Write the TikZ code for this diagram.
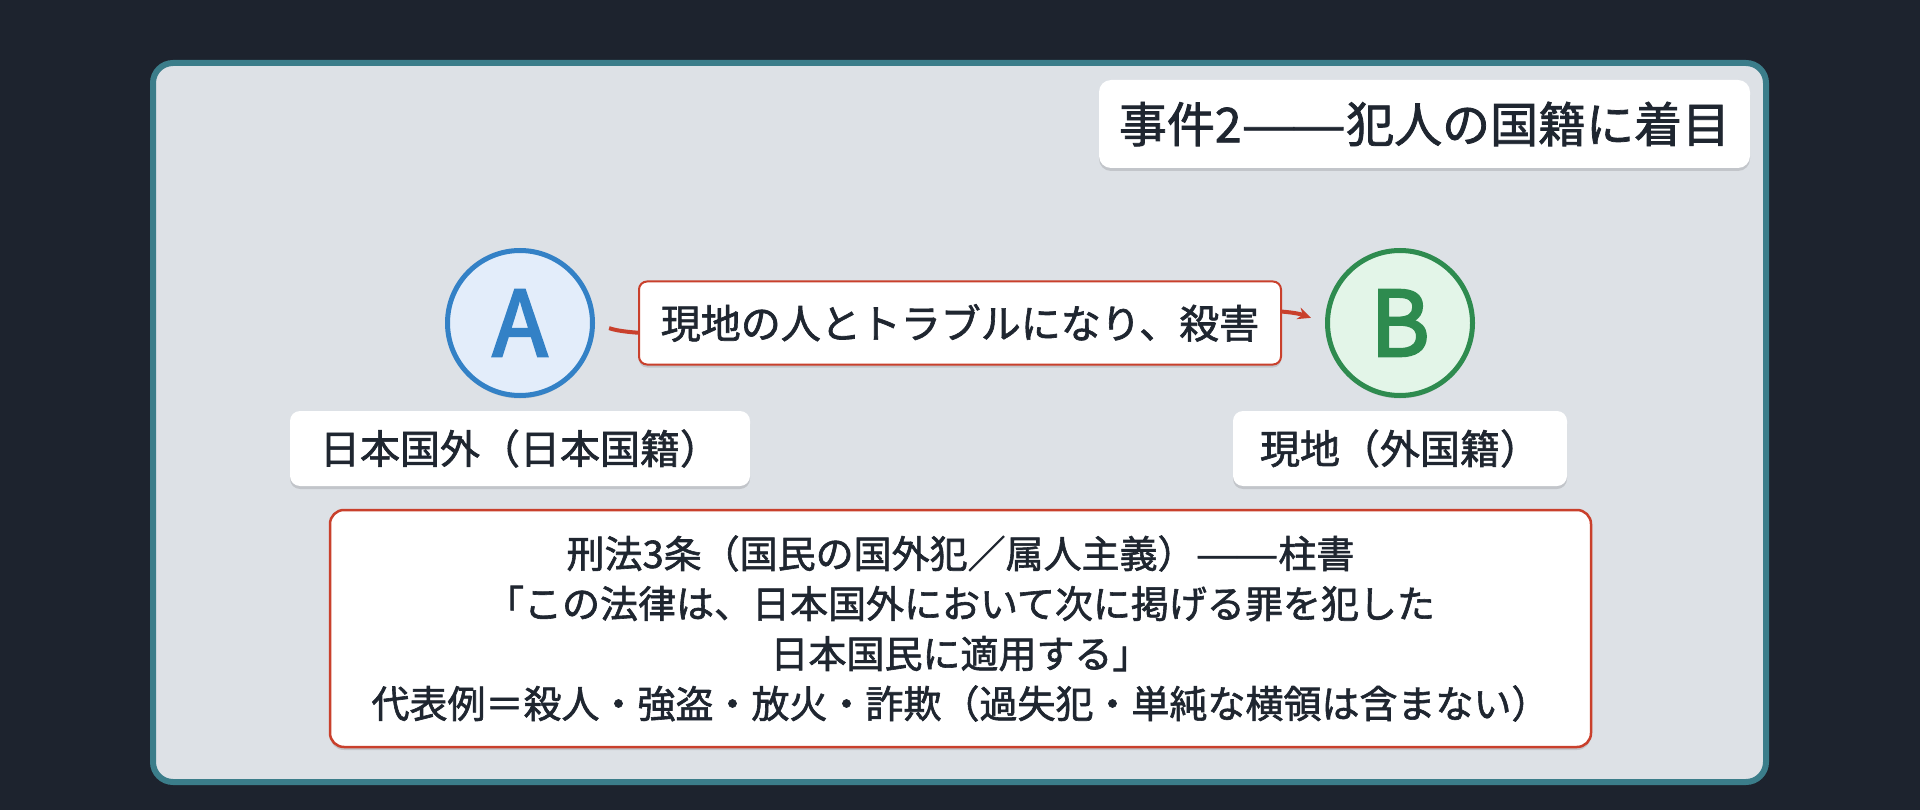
\documentclass[tikz,border=0pt]{standalone}
\usepackage{fontspec}
\usepackage{graphicx}
\setmainfont{Noto Sans CJK JP}
\newfontfamily\jp{Noto Sans CJK JP}[FakeBold=1.6]
\newfontfamily\jpletter{Noto Sans CJK JP}[FakeBold=3]
\newcommand\fwdashes{\scalebox{1.28}[1]{—}\kern-0.11em\scalebox{1.28}[1]{—}}
\usetikzlibrary{arrows.meta,shadows}
\definecolor{bgdark}{HTML}{1D232E}
\definecolor{panelfill}{HTML}{DDE1E6}
\definecolor{panelline}{HTML}{3B7D8A}
\definecolor{txt}{HTML}{1F2630}
\definecolor{redc}{HTML}{C9402C}
\definecolor{bluec}{HTML}{3381C6}
\definecolor{bluefill}{HTML}{E3EDFA}
\definecolor{greenc}{HTML}{2E8B4F}
\definecolor{greenfill}{HTML}{E3F5E8}
\tikzset{
  softshadow/.style={drop shadow={shadow xshift=0pt,shadow yshift=-3pt,opacity=0.12,fill=black}},
  whitebox/.style={fill=white,rounded corners=10pt,inner sep=0pt,text=txt,softshadow},
  redbox/.style={whitebox,draw=redc,line width=2pt},
  person/.style={circle,minimum size=145pt,line width=5pt,inner sep=0pt,softshadow,
    font=\jpletter\fontsize{90}{90}\selectfont},
  link/.style={draw=redc,line width=4pt,-{Stealth[length=13pt,width=12pt]},shorten <=15pt,shorten >=15pt},
}
\begin{document}
\begin{tikzpicture}[x=1pt,y=-1pt]
\useasboundingbox (0,0) rectangle (1920,810);
\fill[bgdark] (0,0) rectangle (1920,810);
\draw[panelline,line width=6pt,fill=panelfill,rounded corners=20pt] (153,63) rectangle (1766,782);

\node[whitebox,rounded corners=12pt,minimum width=651pt,minimum height=88pt,
  font=\jp\fontsize{48}{50}\selectfont] (title) at (1424.5,124) {事件2\fwdashes 犯人の国籍に着目};

\node[person,draw=bluec,fill=bluefill,text=bluec] (A) at (520,323) {A};
\node[person,draw=greenc,fill=greenfill,text=greenc] (B) at (1400,323) {B};

\draw[link] (A.east) to[out=-20,in=160,looseness=0.3]
  node[redbox,rounded corners=8pt,minimum width=642pt,minimum height=83pt,
    font=\jp\fontsize{40}{44}\selectfont] (act) {現地の人とトラブルになり、殺害} (B.west);

\node[whitebox,minimum width=460pt,minimum height=75pt,
  font=\jp\fontsize{40}{44}\selectfont] (labA) at (520,448.5) {日本国外（日本国籍）};
\node[whitebox,minimum width=334pt,minimum height=75pt,
  font=\jp\fontsize{40}{44}\selectfont] (labB) at (1400,448.5) {現地（外国籍）};

\node[redbox,line width=2.5pt,rounded corners=14pt,minimum width=1261pt,minimum height=237pt,
  align=center,font=\jp\fontsize{38}{50}\selectfont] (law) at (960.5,628.5)
  {刑法3条（国民の国外犯／属人主義）\fwdashes 柱書\\
   「この法律は、日本国外において次に掲げる罪を犯した\\
   日本国民に適用する」\\
   代表例＝殺人・強盗・放火・詐欺（過失犯・単純な横領は含まない）};
\end{tikzpicture}
\end{document}
